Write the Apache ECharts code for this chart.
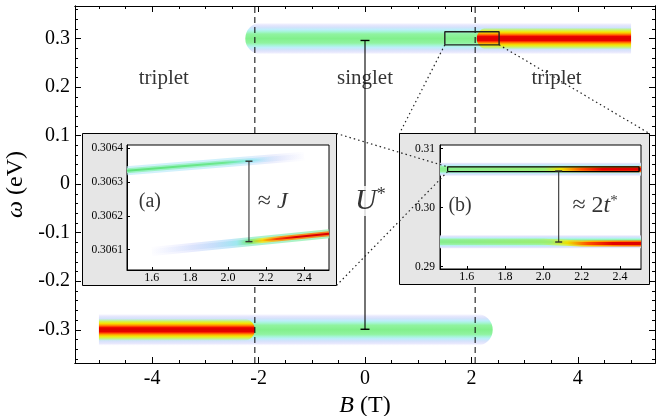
<!DOCTYPE html>
<html>
<head>
<meta charset="utf-8">
<script src="https://cdn.jsdelivr.net/npm/echarts@6/dist/echarts.min.js"></script>
<style>
  html, body { margin: 0; padding: 0; background: #fff; }
  #chart { width: 670px; height: 416px; }
</style>
</head>
<body>
<div id="chart"></div>
<script>
// ---- values ----
// main panel: B (T) against omega (eV)
const criticalB = [-2.07, 2.07];
// [B from, B to, omega]
const singletBands = [[-2.25, 5.0, 0.3], [-5.0, 2.4, -0.3]];
const tripletCores = [[2.1, 5.0, 0.3], [-5.0, -2.07, -0.3]];
const uStarBar = [[0, -0.299], [0, 0.296]];
const zoomBox = [[1.5, 0.287], [2.52, 0.287], [2.52, 0.314], [1.5, 0.314], [1.5, 0.287]];
const regionLabels = [['triplet', -3.78, 0.217], ['singlet', 0, 0.217], ['triplet', 3.6, 0.217]];
const uStarLabel = [0.1, -0.035];

const xMajor = [-4, -2, 0, 2, 4];
const xMinor = [-5, -4.5, -3.5, -3, -2.5, -1.5, -1, -0.5, 0.5, 1, 1.5, 2.5, 3, 3.5, 4.5, 5];
const yMajor = [-0.3, -0.2, -0.1, 0, 0.1, 0.2, 0.3];
const yMinor = [-0.36, -0.34, -0.32, -0.28, -0.26, -0.24, -0.22, -0.18, -0.16, -0.14, -0.12,
  -0.08, -0.06, -0.04, -0.02, 0.02, 0.04, 0.06, 0.08, 0.12, 0.14, 0.16, 0.18,
  0.22, 0.24, 0.26, 0.28, 0.32, 0.34, 0.36];

// inset (a)
const insetAUpper = [[1.47, 0.306334], [2.4, 0.306377]];
const insetALower = [[1.6, 0.306095], [2.53, 0.306147]];
const insetABar = [[2.11, 0.306124], [2.11, 0.306362]];
const insetAXTicks = [1.6, 1.8, 2.0, 2.2, 2.4];
const insetAYTicks = [0.3061, 0.3062, 0.3063, 0.3064];

// inset (b)
const insetBBands = [[1.46, 2.51, 0.3065], [1.46, 2.51, 0.2942]];
const insetBUpper = [[1.46, 0.3065], [2.51, 0.3065]];
const insetBLower = [[1.46, 0.2942], [2.0, 0.2942], [2.2, 0.2939], [2.51, 0.2939]];
const insetBBar = [[2.08, 0.29417], [2.08, 0.3062]];
const insetBBox = [[1.5, 0.3061], [2.5, 0.3061], [2.5, 0.3069], [1.5, 0.3069], [1.5, 0.3061]];
const insetBXTicks = [1.6, 1.8, 2.0, 2.2, 2.4];
const insetBYTicks = [0.29, 0.30, 0.31];

// ---- layout ----
const serif = "'Liberation Serif', 'DejaVu Serif', serif";
const mainX = [-5.45, 5.45], mainY = [-0.3685, 0.367];
const insetAX = [1.47, 2.53], insetAY = [0.30604, 0.30641];
const insetBX = [1.46, 2.51], insetBY = [0.2896, 0.3106];
const panelA = { x: 82.5, y: 133.5, width: 254, height: 152 };
const panelB = { x: 399.5, y: 133.5, width: 250, height: 151 };

function mirror(stops) {
  const back = stops.slice(0, -1).reverse().map(s => [1 - s[0], s[1]]);
  return stops.concat(back).map(s => ({ offset: s[0], color: s[1] }));
}
const haloStops = mirror([
  [0, 'rgba(236,236,255,0)'], [0.07, 'rgba(226,226,252,0.8)'], [0.15, '#d4e2fb'],
  [0.22, '#bdeefa'], [0.29, '#a4f5d4'], [0.36, '#90f3a0'], [0.5, '#82f08c']
]);
const coreStops = mirror([
  [0, 'rgba(170,240,120,0)'], [0.12, 'rgba(210,242,80,0.95)'], [0.21, '#f6e400'],
  [0.29, '#ff9a00'], [0.36, '#ff3a00'], [0.41, '#e80000'], [0.5, '#de0000']
]);

function hgrad(stops) {
  return new echarts.graphic.LinearGradient(0, 0, 1, 0, stops.map(s => ({ offset: s[0], color: s[1] })));
}

function bandSeries(data, ai, halfPx, stops, z) {
  return {
    type: 'custom', xAxisIndex: ai, yAxisIndex: ai, data: data, z: z, silent: true,
    renderItem: function (params, api) {
      const b0 = api.value(0), b1 = api.value(1), w = api.value(2);
      const p0 = api.coord([b0, w]), p1 = api.coord([b1, w]);
      const cs = params.coordSys;
      const left = Math.max(p0[0], cs.x), right = Math.min(p1[0], cs.x + cs.width);
      // ends inside the plot fade out round, ends at the data edge are cut
      const rl = (Math.abs(b0) < 5 && p0[0] > cs.x + 1) ? halfPx : 0;
      const rr = (Math.abs(b1) < 5 && p1[0] < cs.x + cs.width - 1) ? halfPx : 0;
      return {
        type: 'rect',
        shape: { x: left, y: p0[1] - halfPx, width: right - left, height: 2 * halfPx, r: [rl, rr, rr, rl] },
        style: { fill: new echarts.graphic.LinearGradient(0, 0, 0, 1, stops) }
      };
    }
  };
}

function lineSeries(data, ai, width, color, z, dash) {
  return {
    type: 'line', xAxisIndex: ai, yAxisIndex: ai, data: data, z: z, silent: true,
    showSymbol: false, symbol: 'none',
    lineStyle: { width: width, color: color, cap: 'butt', type: dash || 'solid' }
  };
}

function errorBar(data, ai, capW, color, z) {
  return {
    type: 'line', xAxisIndex: ai, yAxisIndex: ai, data: data, z: z, silent: true,
    symbol: 'rect', symbolSize: [capW, 1.4], showSymbol: true,
    itemStyle: { color: color }, lineStyle: { color: color, width: 1.1 }
  };
}

function textSeries(items, ai, fontSize, rich, z, bg) {
  return {
    type: 'scatter', xAxisIndex: ai, yAxisIndex: ai, z: z, silent: true,
    symbolSize: 1, itemStyle: { color: 'transparent' },
    data: items.map(d => ({ value: [d[1], d[2]], name: d[0] })),
    label: {
      show: true, position: 'inside', formatter: '{b}', color: '#000',
      textBorderWidth: 0, textBorderColor: 'transparent',
      fontFamily: serif, fontSize: fontSize, rich: rich,
      backgroundColor: bg || 'transparent', padding: bg ? [0, 2] : 0
    }
  };
}

function axis(gridIndex, position, range, ticks, tickLen, label, z) {
  const a = {
    type: 'value', gridIndex: gridIndex, position: position, min: range[0], max: range[1], z: z,
    axisLine: { show: true, onZero: false, lineStyle: { color: '#000', width: 1 } },
    axisTick: { show: true, inside: true, length: tickLen, customValues: ticks, lineStyle: { color: '#000', width: 1 } },
    axisLabel: { show: false },
    splitLine: { show: false }
  };
  if (label) {
    a.axisLabel = Object.assign({ show: true, customValues: ticks, color: '#000', fontFamily: serif }, label);
  }
  return a;
}

const mainFmt = v => String(+v.toFixed(2));
const nameStyle = {
  fontFamily: serif, fontSize: 24, color: '#000',
  rich: { i: { fontFamily: serif, fontStyle: 'italic', fontSize: 24, color: '#000' } }
};

const xAxes = [
  Object.assign(axis(0, 'bottom', mainX, xMajor, 6, { fontSize: 20, margin: 6, formatter: mainFmt }, 3), {
    name: '{i|B} (T)', nameLocation: 'middle', nameGap: 26, nameTextStyle: nameStyle
  }),
  axis(0, 'bottom', mainX, xMinor, 3, null, 3),
  axis(0, 'top', mainX, xMajor, 6, null, 3),
  axis(0, 'top', mainX, xMinor, 3, null, 3),
  axis(1, 'bottom', insetAX, insetAXTicks, 3, { fontSize: 12, margin: 2, formatter: v => v.toFixed(1) }, 12),
  axis(2, 'bottom', insetBX, insetBXTicks, 3, { fontSize: 12, margin: 2, formatter: v => v.toFixed(1) }, 12)
];
const yAxes = [
  Object.assign(axis(0, 'left', mainY, yMajor, 6, { fontSize: 20, margin: 5, formatter: mainFmt }, 3), {
    name: '{i|ω} (eV)', nameLocation: 'middle', nameGap: 44, nameRotate: 90, nameTextStyle: nameStyle
  }),
  axis(0, 'left', mainY, yMinor, 3, null, 3),
  axis(0, 'right', mainY, yMajor, 6, null, 3),
  axis(0, 'right', mainY, yMinor, 3, null, 3),
  axis(1, 'left', insetAY, insetAYTicks, 3, { fontSize: 11.5, margin: 4, formatter: v => v.toFixed(4) }, 12),
  axis(2, 'left', insetBY, insetBYTicks, 3, { fontSize: 11.5, margin: 5, formatter: v => v.toFixed(2) }, 12)
];

const chart = echarts.init(document.getElementById('chart'));

// colour along B for the inset (b) lines: green singlet turning red past B*
const bUpperWide = hgrad([[0, 'rgba(150,240,160,0.9)'], [0.5, 'rgba(160,242,140,0.9)'], [0.6, 'rgba(220,240,70,0.95)'], [0.72, '#ffb000'], [0.85, '#ff7a00'], [1, '#ff6a00']]);
const bUpperCore = hgrad([[0, '#86ee90'], [0.52, '#9cee70'], [0.6, '#f0e000'], [0.7, '#ff5000'], [0.8, '#e40000'], [1, '#de0000']]);
const bLowerWide = hgrad([[0, 'rgba(150,240,160,0.9)'], [0.5, 'rgba(160,242,140,0.9)'], [0.62, 'rgba(220,240,70,0.95)'], [0.75, '#ffb000'], [0.88, '#ff7a00'], [1, '#ff6a00']]);
const bLowerCore = hgrad([[0, '#86ee90'], [0.55, '#9cee70'], [0.63, '#f0e000'], [0.73, '#ff5000'], [0.85, '#e40000'], [1, '#de0000']]);

const series = [
  // main panel
  bandSeries(singletBands, 0, 16, haloStops, 2),
  bandSeries(tripletCores, 0, 11, coreStops, 3),
  lineSeries([[criticalB[0], mainY[0]], [criticalB[0], mainY[1]]], 0, 1, '#000', 4, [6, 4]),
  lineSeries([[criticalB[1], mainY[0]], [criticalB[1], mainY[1]]], 0, 1, '#000', 4, [6, 4]),
  errorBar(uStarBar, 0, 9, '#000', 4),
  lineSeries(zoomBox, 0, 1.4, '#222', 5),
  textSeries(regionLabels, 0, 21, {}, 6),
  textSeries([['{u|U}{s|*}', uStarLabel[0], uStarLabel[1]]], 0, 30, {
    u: { fontFamily: serif, fontStyle: 'italic', fontSize: 30, color: '#000' },
    s: { fontFamily: serif, fontSize: 18, verticalAlign: 'top', lineHeight: 16, color: '#000' }
  }, 6, '#fff'),

  // inset (a)
  lineSeries(insetAUpper, 4, 9, hgrad([[0, 'rgba(190,235,250,0.7)'], [0.6, 'rgba(190,235,250,0.7)'], [0.8, 'rgba(215,220,250,0.5)'], [1, 'rgba(235,235,255,0)']]), 13),
  lineSeries(insetAUpper, 4, 5, hgrad([[0, '#9af2c0'], [0.55, '#a0f0d0'], [0.7, 'rgba(170,230,250,0.8)'], [0.85, 'rgba(210,220,250,0.4)'], [1, 'rgba(230,230,255,0)']]), 13),
  lineSeries(insetAUpper, 4, 2, hgrad([[0, '#5ee27a'], [0.55, '#6ee890'], [0.68, 'rgba(120,235,220,0.8)'], [0.8, 'rgba(190,220,255,0)'], [1, 'rgba(255,255,255,0)']]), 13),
  lineSeries(insetALower, 4, 9, hgrad([[0, 'rgba(230,230,255,0)'], [0.25, 'rgba(215,220,252,0.6)'], [0.45, 'rgba(180,225,250,0.8)'], [0.55, 'rgba(150,240,200,0.8)'], [1, 'rgba(150,240,170,0.8)']]), 13),
  lineSeries(insetALower, 4, 5, hgrad([[0, 'rgba(220,225,255,0)'], [0.35, 'rgba(190,215,250,0.6)'], [0.48, '#9ee8f0'], [0.55, '#7aea8c'], [0.62, '#e6ec40'], [0.72, '#f6a020'], [1, '#f08020']]), 13),
  lineSeries(insetALower, 4, 2, hgrad([[0, 'rgba(255,255,255,0)'], [0.5, 'rgba(120,230,140,0)'], [0.56, '#8ae860'], [0.62, '#ffcc00'], [0.7, '#ff4000'], [0.8, '#e00000'], [1, '#dd0000']]), 13),
  errorBar(insetABar, 4, 7, '#333', 14),
  textSeries([['(a)', 1.59, 0.306243]], 4, 20, {}, 14),
  textSeries([['{n|≈ }{i|J}', 2.235, 0.306243]], 4, 24, {
    n: { fontFamily: serif, fontSize: 24, color: '#000' },
    i: { fontFamily: serif, fontStyle: 'italic', fontSize: 24, color: '#000' }
  }, 14),

  // inset (b)
  bandSeries(insetBBands, 5, 7, haloStops, 13),
  lineSeries(insetBUpper, 5, 6, bUpperWide, 13),
  lineSeries(insetBUpper, 5, 3, bUpperCore, 13),
  lineSeries(insetBLower, 5, 6, bLowerWide, 13),
  lineSeries(insetBLower, 5, 3, bLowerCore, 13),
  lineSeries(insetBBox, 5, 1.2, '#000', 14),
  errorBar(insetBBar, 5, 7, '#333', 14),
  textSeries([['(b)', 1.565, 0.30027]], 5, 20, {}, 14),
  textSeries([['{n|≈ 2}{i|t}{s|*}', 2.27, 0.30027]], 5, 24, {
    n: { fontFamily: serif, fontSize: 24, color: '#000' },
    i: { fontFamily: serif, fontStyle: 'italic', fontSize: 24, color: '#000' },
    s: { fontFamily: serif, fontSize: 15, verticalAlign: 'top', lineHeight: 14, color: '#000' }
  }, 14)
];

const panels = [panelA, panelB].map((p, i) => ({
  type: 'rect', id: 'panel' + i, z: 10, silent: true, shape: p,
  style: { fill: '#e6e6e6', stroke: '#000', lineWidth: 1 }
}));

const option = {
  animation: false,
  backgroundColor: '#fff',
  textStyle: { fontFamily: serif },
  grid: [
    { left: 75, right: 15, top: 6, bottom: 53, show: true, backgroundColor: '#fff', borderWidth: 0, outerBoundsMode: 'none' },
    { left: 127, top: 145, width: 202, height: 125, show: true, backgroundColor: '#fff', borderColor: '#000', borderWidth: 1, z: 11, outerBoundsMode: 'none' },
    { left: 440, top: 145, width: 201, height: 124, show: true, backgroundColor: '#fff', borderColor: '#000', borderWidth: 1, z: 11, outerBoundsMode: 'none' }
  ],
  xAxis: xAxes,
  yAxis: yAxes,
  graphic: panels,
  series: series
};
chart.setOption(option);

// dotted connectors between the zoom boxes and the inset panels
const px = (ai, v) => chart.convertToPixel({ xAxisIndex: ai, yAxisIndex: ai }, v);
const links = [
  [px(0, [zoomBox[0][0], zoomBox[0][1]]), [panelB.x, panelB.y]],
  [px(0, [zoomBox[1][0], zoomBox[1][1]]), [panelB.x + panelB.width, panelB.y]],
  [[panelA.x + panelA.width, panelA.y], px(5, [insetBBox[3][0], insetBBox[3][1]])],
  [[panelA.x + panelA.width, panelA.y + panelA.height], px(5, [insetBBox[0][0], insetBBox[0][1]])]
];
chart.setOption({
  graphic: panels.concat(links.map((l, i) => ({
    type: 'line', id: 'link' + i, z: 20, silent: true,
    shape: { x1: l[0][0], y1: l[0][1], x2: l[1][0], y2: l[1][1] },
    style: { stroke: '#222', lineWidth: 1.2, lineDash: [1.5, 3] }
  })))
});
</script>
</body>
</html>
